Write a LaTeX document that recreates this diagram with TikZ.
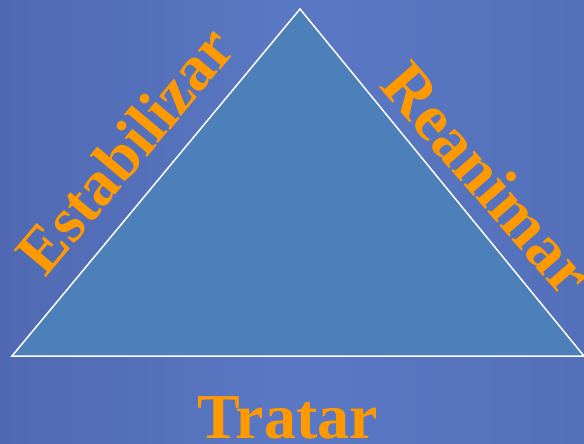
\documentclass[tikz,border=0pt]{standalone}
\usepackage{fontspec}
\setmainfont{Liberation Serif}
\definecolor{bgl}{HTML}{5069B2}
\definecolor{bgm}{HTML}{5A78C4}
\definecolor{bgr}{HTML}{5470BA}
\definecolor{trifill}{HTML}{4D80B8}
\definecolor{lab}{HTML}{FF9900}
\begin{document}
\begin{tikzpicture}[x=1pt,y=-1pt,
  lbl/.style={text=lab,font=\bfseries\fontsize{64}{64}\selectfont,inner sep=0pt}]
\useasboundingbox (0,0) rectangle (584,444);
\shade[left color=bgl,right color=bgr,middle color=bgm] (0,0) rectangle (584,444);
\coordinate (A) at (300,9);
\coordinate (B) at (12,356);
\coordinate (C) at (584,356);
\draw[white,line width=1.5pt,fill=trifill,line join=miter] (B) -- (A) -- (C) -- cycle;
\node[lbl,rotate=50] (est) at (125,150) {Estabilizar};
\node[lbl,rotate=-49,font=\bfseries\fontsize{66}{66}\selectfont] (rea) at (488,178) {Reanimar};
\node[lbl] (tra) at (288,418) {Tratar};
\end{tikzpicture}
\end{document}
